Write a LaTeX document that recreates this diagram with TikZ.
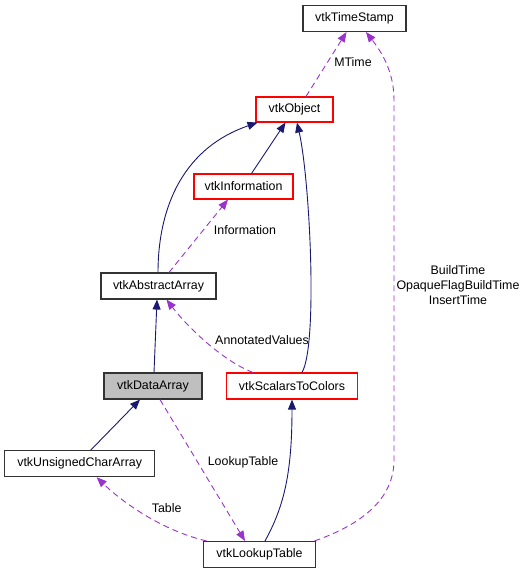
\documentclass[tikz,border=0pt]{standalone}
\usepackage{fontspec}
\setmainfont{Liberation Sans}
\usetikzlibrary{arrows.meta}
\definecolor{navyedge}{HTML}{191970}
\definecolor{purpedge}{HTML}{9A32CD}
\definecolor{grayfill}{HTML}{BFBFBF}
\begin{document}
\begin{tikzpicture}[x=1pt,y=-1pt,
  font=\fontsize{12.4}{15}\selectfont,
  cls/.style={draw=black!80, line width=1.1pt, minimum height=26pt, inner sep=0pt, anchor=center},
  redcls/.style={cls, draw=red},
  inh/.style={draw=navyedge, line width=0.9pt, -{Triangle[length=10pt,width=8pt]}},
  use/.style={draw=purpedge, line width=0.9pt, dash pattern=on 6pt off 4pt, -{Triangle[length=10pt,width=8pt]}},
  lbl/.style={inner sep=0pt, align=center}]
\useasboundingbox (0,0) rectangle (525,573);
% nodes
\node[cls, minimum width=103pt] (ts) at (354.5,18.5) {vtkTimeStamp};
\node[redcls, minimum width=77pt, minimum height=25pt] (obj) at (294.5,109.5) {vtkObject};
\node[redcls, minimum width=99pt, minimum height=25pt] (info) at (243.5,186.5) {vtkInformation};
\node[cls, minimum width=115pt] (aa) at (158.5,286) {vtkAbstractArray};
\node[cls, fill=grayfill, minimum width=98pt] (da) at (153,386) {vtkDataArray};
\node[redcls, minimum width=131pt] (stc) at (292,386) {vtkScalarsToColors};
\node[cls, minimum width=150pt] (uca) at (79.7,463.7) {vtkUnsignedCharArray};
\node[cls, minimum width=112pt] (lt) at (259.5,554.5) {vtkLookupTable};
% inheritance
\draw[inh] ([xshift=-0.5pt]aa.north) .. controls (158,215) and (178,150) .. ([xshift=-37pt]obj.south);
\draw[inh] ([xshift=8pt]info.north) -- ([xshift=-9pt]obj.south);
\draw[inh] ([xshift=10pt]stc.north) .. controls (318,345) and (310,180) .. ([xshift=2.5pt]obj.south);
\draw[inh] ([xshift=1pt]da.north) -- ([xshift=-1.5pt]aa.south);
\draw[inh] ([xshift=11pt]uca.north) -- ([xshift=-13pt]da.south);
\draw[inh] ([xshift=5.5pt]lt.north) .. controls (285,505) and (292,470) .. (stc.south);
% usage
\draw[use] ([xshift=11.5pt]obj.north) -- ([xshift=-8pt]ts.south);
\node[lbl] (lmtime) at (353,62) {MTime};
\draw[use] ([xshift=55pt]lt.north) .. controls (360,525) and (394,500) .. (394,460) -- (394,100) .. controls (394,70) and (380,50) .. ([xshift=11.5pt]ts.south);
\node[lbl] (lbuild) at (458,285) {BuildTime\\OpaqueFlagBuildTime\\InsertTime};
\draw[use] ([xshift=10.5pt]aa.north) -- ([xshift=-15.5pt]info.south);
\node[lbl] (linfo) at (245,230) {Information};
\draw[use] ([xshift=-39pt]stc.north) .. controls (225,362) and (190,330) .. ([xshift=8pt]aa.south);
\node[lbl] (lann) at (262,340) {AnnotatedValues};
\draw[use] ([xshift=7pt]da.south) -- ([xshift=-14.5pt]lt.north);
\node[lbl] (llut) at (243,462) {LookupTable};
\draw[use] ([xshift=-53pt]lt.north) .. controls (160,530) and (120,500) .. ([xshift=17pt]uca.south);
\node[lbl] (ltable) at (166.7,507.7) {Table};
\end{tikzpicture}
\end{document}
